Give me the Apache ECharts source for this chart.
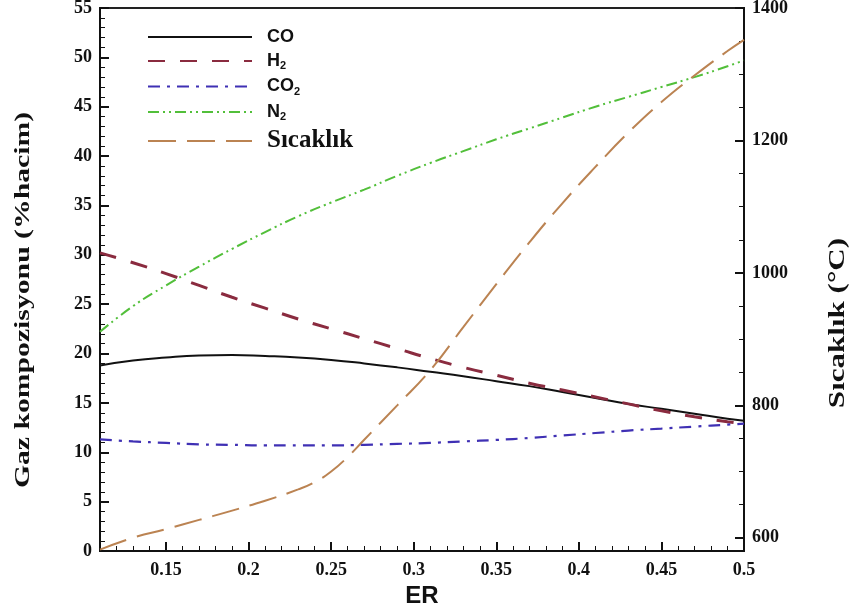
<!DOCTYPE html>
<html>
<head>
<meta charset="utf-8">
<script src="https://cdn.jsdelivr.net/npm/echarts@6.0.0/dist/echarts.min.js"></script>
<style>
html,body{margin:0;padding:0;background:#fff;}
#chart{width:857px;height:606px;}
</style>
</head>
<body>
<div id="chart"></div>
<script>
// ---- Data ----
const erValues = [0.11, 0.13, 0.15, 0.17, 0.19, 0.21, 0.23, 0.25, 0.27, 0.29, 0.31, 0.33, 0.35, 0.37, 0.39, 0.41, 0.43, 0.45, 0.47, 0.49, 0.50];
const coValues  = [18.8, 19.3, 19.6, 19.8, 19.85, 19.75, 19.6, 19.35, 19.0, 18.6, 18.15, 17.7, 17.2, 16.7, 16.1, 15.5, 14.9, 14.4, 13.9, 13.4, 13.2];
const h2Values  = [30.2, 29.2, 28.1, 26.9, 25.7, 24.6, 23.5, 22.5, 21.5, 20.5, 19.5, 18.6, 17.8, 17.0, 16.3, 15.6, 14.9, 14.2, 13.6, 13.1, 12.9];
const co2Values = [11.3, 11.1, 10.95, 10.8, 10.75, 10.7, 10.7, 10.7, 10.75, 10.85, 10.95, 11.1, 11.25, 11.45, 11.7, 11.95, 12.2, 12.4, 12.6, 12.8, 12.9];
const n2Values  = [22.2, 24.8, 26.9, 28.8, 30.6, 32.3, 33.9, 35.3, 36.6, 38.0, 39.3, 40.5, 41.7, 42.8, 43.9, 45.0, 46.0, 47.0, 48.0, 49.1, 49.7];
const tempER     = [0.11, 0.13, 0.15, 0.17, 0.19, 0.21, 0.23, 0.24, 0.25, 0.26, 0.27, 0.29, 0.31, 0.33, 0.35, 0.37, 0.39, 0.41, 0.43, 0.45, 0.47, 0.49, 0.50];
const tempValues = [582, 600, 613, 627, 641, 656, 673, 684, 700, 722, 748, 800, 853, 918, 983, 1046, 1105, 1160, 1212, 1258, 1298, 1335, 1352];

const seriesNames = ['CO', 'H2', 'CO2', 'N2', 'Sıcaklık'];
const xTickLabels = [0.15, 0.2, 0.25, 0.3, 0.35, 0.4, 0.45, 0.5];
const xMinorTicks = [0.11, 0.12, 0.13, 0.14, 0.16, 0.17, 0.18, 0.19, 0.21, 0.22, 0.23, 0.24, 0.26, 0.27, 0.28, 0.29,
                     0.31, 0.32, 0.33, 0.34, 0.36, 0.37, 0.38, 0.39, 0.41, 0.42, 0.43, 0.44, 0.46, 0.47, 0.48, 0.49];
const rightTickLabels = [600, 800, 1000, 1200, 1400];
const rightMinorTicks = [650, 700, 750, 850, 900, 950, 1050, 1100, 1150, 1250, 1300, 1350];

const pair = (xs, ys) => xs.map((x, i) => [x, ys[i]]);

const serifBold = {fontFamily: 'Liberation Serif', fontWeight: 'bold', color: '#111'};
const chart = echarts.init(document.getElementById('chart'), null, {renderer: 'canvas'});

const option = {
  backgroundColor: '#fff',
  animation: false,
  grid: {left: 100, right: 113, top: 8, bottom: 55, containLabel: false, outerBoundsMode: 'none',
    show: true, borderColor: '#222', borderWidth: 2, backgroundColor: 'transparent'},
  legend: {
    orient: 'vertical', left: 142, top: 23,
    itemWidth: 104, itemHeight: 16, itemGap: 6,
    itemStyle: {opacity: 0},
    textStyle: {fontFamily: 'Liberation Sans', fontWeight: 'bold', fontSize: 18, color: '#111', padding: [0, 0, 0, 10],
      rich: {
        b: {fontFamily: 'Liberation Sans', fontWeight: 'bold', fontSize: 18, color: '#111'},
        s: {fontFamily: 'Liberation Sans', fontWeight: 'bold', fontSize: 11, color: '#111', padding: [10, 0, 0, 0]}
      }
    },
    formatter: function (n) {
      if (n === 'H2') return '{b|H}{s|2}';
      if (n === 'CO2') return '{b|CO}{s|2}';
      if (n === 'N2') return '{b|N}{s|2}';
      return n;
    },
    data: [
      {name: 'CO'}, {name: 'H2'}, {name: 'CO2'}, {name: 'N2'},
      {name: 'Sıcaklık', textStyle: {fontFamily: 'Liberation Serif', fontWeight: 'bold', fontSize: 25, color: '#111', padding: [0, 0, 0, 10]}}
    ]
  },
  xAxis: [
    {
      type: 'value', min: 0.11, max: 0.5, position: 'bottom',
      name: 'ER', nameLocation: 'middle', nameGap: 30,
      nameTextStyle: {fontFamily: 'Liberation Sans', fontWeight: 'bold', fontSize: 24, color: '#111'},
      axisLine: {show: true, onZero: false, lineStyle: {color: '#111', width: 2}},
      axisTick: {show: true, inside: true, length: 9, customValues: xTickLabels, lineStyle: {color: '#111', width: 2}},
      axisLabel: Object.assign({customValues: xTickLabels, fontSize: 18, margin: 10}, serifBold),
      splitLine: {show: false}
    },
    {
      type: 'value', min: 0.11, max: 0.5, position: 'bottom',
      axisLine: {show: false},
      axisTick: {show: true, inside: true, length: 5, customValues: xMinorTicks, lineStyle: {color: '#111', width: 1}},
      axisLabel: {show: false},
      splitLine: {show: false}
    }
  ],
  yAxis: [
    {
      type: 'value', min: 0, max: 55, interval: 5, position: 'left',
      axisLine: {show: true, lineStyle: {color: '#111', width: 2}},
      axisTick: {show: true, inside: true, length: 9, lineStyle: {color: '#111', width: 2}},
      minorTick: {show: true, splitNumber: 5, length: 5, lineStyle: {color: '#111', width: 1}},
      axisLabel: Object.assign({fontSize: 18, margin: 8}, serifBold),
      splitLine: {show: false}
    },
    {
      type: 'value', min: 580, max: 1400, position: 'right',
      axisLine: {show: true, lineStyle: {color: '#111', width: 2}},
      axisTick: {show: true, inside: true, length: 9, customValues: rightTickLabels, lineStyle: {color: '#111', width: 2}},
      axisLabel: Object.assign({customValues: rightTickLabels, fontSize: 18, margin: 8, formatter: function (v) { return String(v); }}, serifBold),
      splitLine: {show: false}
    },
    {
      type: 'value', min: 580, max: 1400, position: 'right',
      axisLine: {show: false},
      axisTick: {show: true, inside: true, length: 5, customValues: rightMinorTicks, lineStyle: {color: '#111', width: 1}},
      axisLabel: {show: false},
      splitLine: {show: false}
    }
  ],
  graphic: [
    {type: 'text', x: 23, y: 300, rotation: Math.PI / 2, scaleX: 1.35,
      style: {text: 'Gaz kompozisyonu (%hacim)', font: 'bold 22px "Liberation Serif"', fill: '#111', align: 'center', verticalAlign: 'middle'}},
    {type: 'text', x: 838, y: 323, rotation: Math.PI / 2, scaleX: 1.35,
      style: {text: 'Sıcaklık (°C)', font: 'bold 23px "Liberation Serif"', fill: '#111', align: 'center', verticalAlign: 'middle'}}
  ],
  series: [
    {name: 'CO', type: 'line', xAxisIndex: 0, yAxisIndex: 0, smooth: true, symbol: 'none', data: pair(erValues, coValues),
      lineStyle: {color: '#111', width: 2, type: 'solid'}, itemStyle: {color: '#111'}},
    {name: 'H2', type: 'line', xAxisIndex: 0, yAxisIndex: 0, smooth: true, symbol: 'none', data: pair(erValues, h2Values),
      lineStyle: {color: '#8a2b3f', width: 3, type: [17, 15]}, itemStyle: {color: '#8a2b3f'}},
    {name: 'CO2', type: 'line', xAxisIndex: 0, yAxisIndex: 0, smooth: true, symbol: 'none', data: pair(erValues, co2Values),
      lineStyle: {color: '#3f30b4', width: 2.2, type: [12, 7, 3, 7]}, itemStyle: {color: '#3f30b4'}},
    {name: 'N2', type: 'line', xAxisIndex: 0, yAxisIndex: 0, smooth: true, symbol: 'none', data: pair(erValues, n2Values),
      lineStyle: {color: '#52bf3a', width: 2, type: [11, 4, 2, 4, 2, 4]}, itemStyle: {color: '#52bf3a'}},
    {name: 'Sıcaklık', type: 'line', xAxisIndex: 0, yAxisIndex: 1, smooth: true, symbol: 'none', data: pair(tempER, tempValues),
      lineStyle: {color: '#bb8352', width: 2, type: [28, 11]}, itemStyle: {color: '#bb8352'}}
  ]
};
chart.setOption(option);
</script>
</body>
</html>
